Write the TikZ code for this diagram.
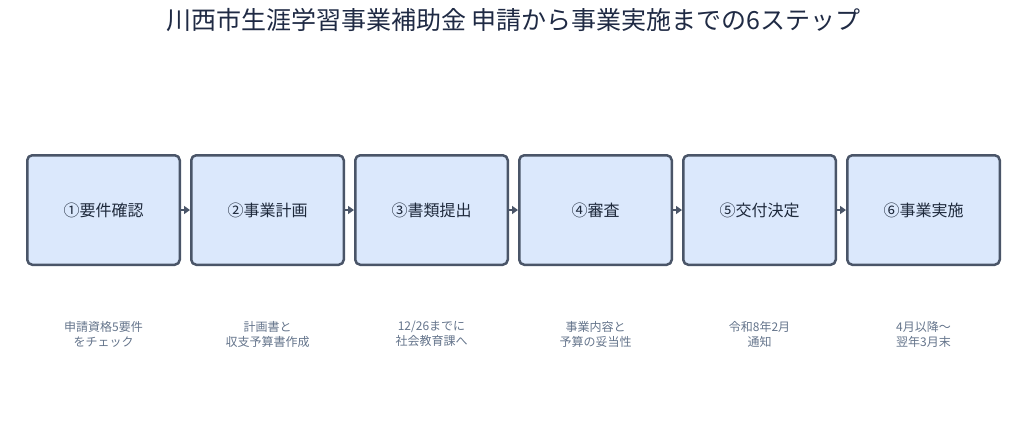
\documentclass[tikz,border=0pt]{standalone}
\usepackage{fontspec}
\setmainfont{Noto Sans CJK JP}
\usetikzlibrary{arrows.meta}
\definecolor{boxfill}{HTML}{DBE8FC}
\definecolor{boxline}{HTML}{4A5568}
\definecolor{titlecol}{HTML}{1F2A44}
\definecolor{labelcol}{HTML}{1E293B}
\definecolor{notecol}{HTML}{64748B}
\begin{document}
\begin{tikzpicture}[x=1pt, y=-1pt, line join=round,
	stepbox/.style={draw=boxline, fill=boxfill, line width=2.5pt, rounded corners=5pt,
		minimum width=152.5pt, minimum height=109.5pt, inner sep=0pt,
		text=labelcol, font=\fontsize{16}{19}\selectfont},
	notebox/.style={align=center, text=notecol, font=\fontsize{12}{15}\selectfont},
	flow/.style={draw=boxline, line width=2.5pt, -{Triangle[length=6pt,width=8pt]}}]
	\useasboundingbox (0,0) rectangle (1027,432);
	\node[text=titlecol, font=\fontsize{25}{28}\selectfont] (title) at (513.5,20)
		{川西市生涯学習事業補助金 申請から事業実施までの6ステップ};
	\foreach \i/\t/\n in {1/①要件確認/{申請資格5要件\\をチェック},
		2/②事業計画/{計画書と\\収支予算書作成},
		3/③書類提出/{12/26までに\\社会教育課へ},
		4/④審査/{事業内容と\\予算の妥当性},
		5/⑤交付決定/{令和8年2月\\通知},
		6/⑥事業実施/{4月以降～\\翌年3月末}}
	{
		\node[stepbox] (s\i) at ({103.5+164*(\i-1)},210) {\t};
		\node[notebox] (n\i) at ({103.5+164*(\i-1)},334) {\n};
	}
	% 矢印
	\foreach \a/\b in {1/2, 2/3, 3/4, 4/5, 5/6}
	\draw[flow] (s\a.east) -- (s\b.west);
\end{tikzpicture}
\end{document}
